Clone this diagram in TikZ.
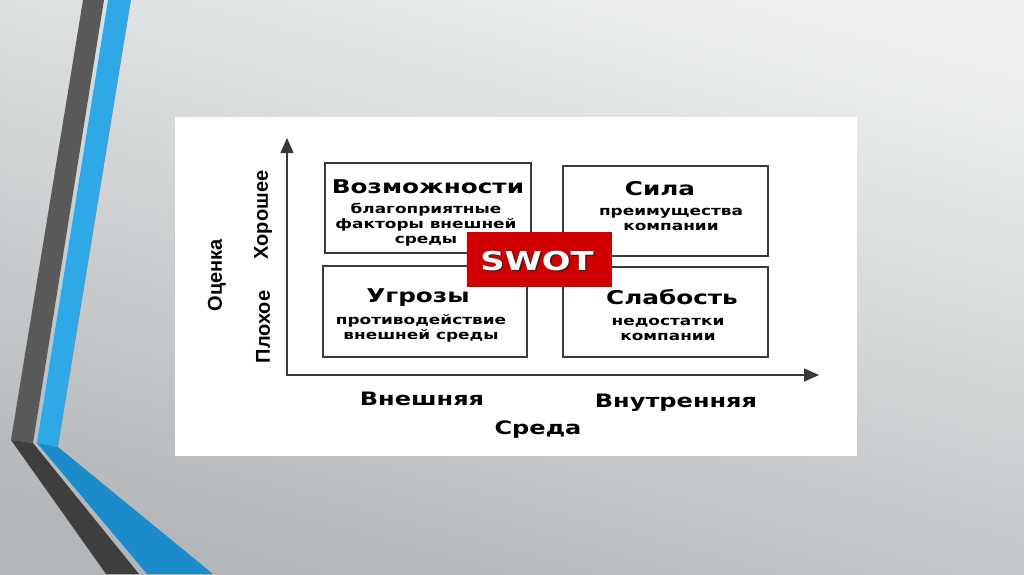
\documentclass[tikz,border=0pt]{standalone}
\usepackage{fontspec}
\setmainfont{DejaVu Sans}[FakeStretch=1.3]
\newfontfamily\axisfont{Liberation Sans}
\usetikzlibrary{arrows.meta}
\definecolor{bgtop}{HTML}{EDEFF0}
\definecolor{bgbot}{HTML}{B4B7B9}
\definecolor{bandgray}{HTML}{595959}
\definecolor{banddark}{HTML}{3E3E3E}
\definecolor{bandblue}{HTML}{2FA8E8}
\definecolor{bandbluedark}{HTML}{1B8BCB}
\definecolor{swotred}{HTML}{D00000}
\definecolor{frame}{HTML}{3A3A3A}
\begin{document}
\begin{tikzpicture}[x=1pt,y=-1pt,
  quad/.style={draw=frame, line width=1.3pt, fill=white, inner sep=0pt},
  head/.style={font=\bfseries\fontsize{19}{19}\selectfont, anchor=base, inner sep=0pt},
  sub/.style={font=\bfseries\fontsize{13}{15}\selectfont, align=center, anchor=base, inner sep=0pt},
  axlabel/.style={font=\axisfont\bfseries\fontsize{20}{20}\selectfont, rotate=90, inner sep=0pt},
  axis/.style={line width=1.4pt, draw=frame, {Triangle[length=15pt,width=13pt]}-{Triangle[length=15pt,width=13pt]}}]
  \useasboundingbox (0,0) rectangle (1024,574);
  \shade[top color=bgtop, bottom color=bgbot, shading angle=-15] (0,0) rectangle (1024,574);
  \fill[bandgray] (83,0) -- (104,0) -- (33,443) -- (11,440) -- cycle;
  \fill[bandblue] (108,0) -- (131,0) -- (58,447) -- (37,443) -- cycle;
  \fill[banddark] (11,440) -- (33,443) -- (139,574) -- (106,574) -- cycle;
  \fill[bandbluedark] (37,443) -- (58,447) -- (213,574) -- (147,574) -- cycle;
  \fill[white] (175,117) rectangle (857,456);

  \coordinate (origin) at (287,375);
  \coordinate (ytip) at (287,138);
  \coordinate (xtip) at (819,375);
  \draw[axis] (ytip) |- (xtip);

  \node[quad, minimum width=206pt, minimum height=90pt] (opp) at (428,208) {};
  \node[quad, minimum width=205pt, minimum height=90pt] (str) at (665.5,211) {};
  \node[quad, minimum width=204pt, minimum height=91pt] (thr) at (425,311.5) {};
  \node[quad, minimum width=205pt, minimum height=90pt] (weak) at (665.5,312) {};

  \node[head] (opph) at (428,193) {Возможности};
  \node[sub] (opps) at (426,243) {благоприятные\\факторы внешней\\среды};
  \node[head] (strh) at (660,195) {Сила};
  \node[sub] (strs) at (671,230) {преимущества\\компании};
  \node[head] (thrh) at (418,302) {Угрозы};
  \node[sub] (thrs) at (421,339) {противодействие\\внешней среды};
  \node[head] (weakh) at (672,304) {Слабость};
  \node[sub] (weaks) at (668,340) {недостатки\\компании};

  \node[fill=swotred, minimum width=145pt, minimum height=55pt, inner sep=0pt] (swot) at (539.5,259.5) {};
  \node[head, font=\bfseries\fontsize{26}{26}\selectfont, text=black!85] (swotsh) at (538.5,271.5) {SWOT};
  \node[head, font=\bfseries\fontsize{26}{26}\selectfont, text=white] (swott) at (537,270) {SWOT};

  \node[axlabel] (evalab) at (217,275) {Оценка};
  \node[axlabel] (goodlab) at (263,215) {Хорошее};
  \node[axlabel] (badlab) at (263,327) {Плохое};
  \node[head, font=\bfseries\fontsize{18.5}{18.5}\selectfont] (extlab) at (422,405) {Внешняя};
  \node[head, font=\bfseries\fontsize{18.5}{18.5}\selectfont] (intlab) at (676,407) {Внутренняя};
  \node[head, font=\bfseries\fontsize{18.5}{18.5}\selectfont] (envlab) at (538,434) {Среда};
\end{tikzpicture}
\end{document}
